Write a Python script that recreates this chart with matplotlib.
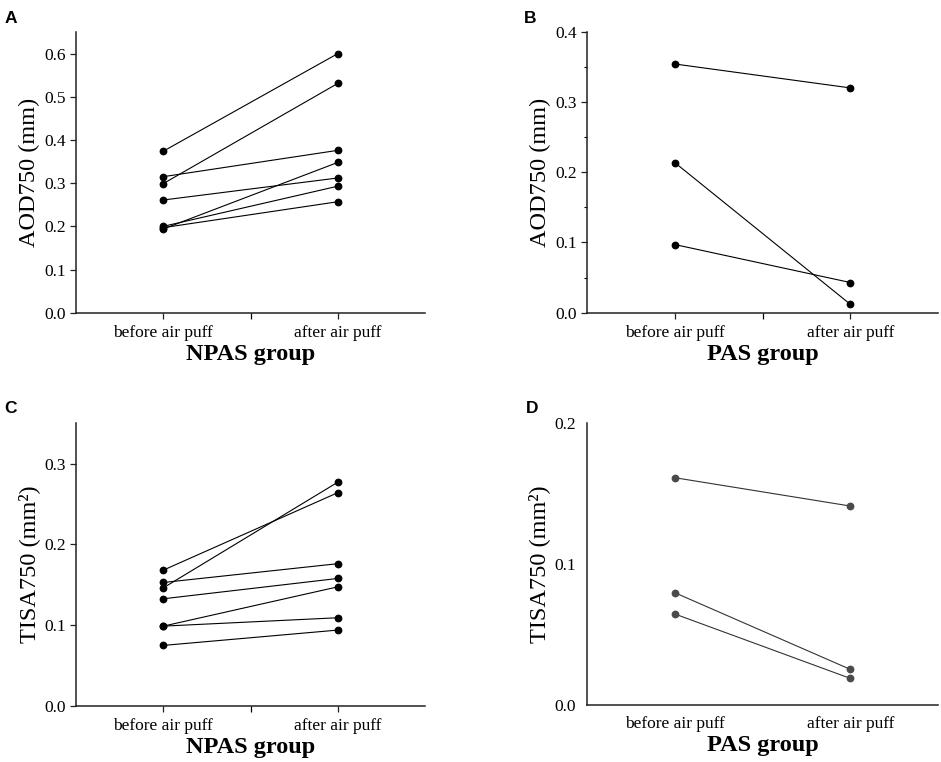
import matplotlib
matplotlib.use('Agg')
import matplotlib.pyplot as plt
from matplotlib.ticker import MultipleLocator, FixedLocator

plt.rcParams['font.family'] = ['Liberation Serif', 'DejaVu Serif']

conditions = ['before air puff', 'after air puff']

# panel A: AOD750, NPAS group
npas_aod_before = [0.374, 0.299, 0.315, 0.261, 0.194, 0.200, 0.197]
npas_aod_after = [0.600, 0.531, 0.376, 0.312, 0.348, 0.293, 0.257]

# panel B: AOD750, PAS group
pas_aod_before = [0.354, 0.2135, 0.097]
pas_aod_after = [0.320, 0.012, 0.043]

# panel C: TISA750, NPAS group
npas_tisa_before = [0.168, 0.146, 0.1527, 0.1325, 0.0986, 0.0986, 0.0747]
npas_tisa_after = [0.264, 0.277, 0.176, 0.1577, 0.1473, 0.109, 0.0937]

# panel D: TISA750, PAS group
pas_tisa_before = [0.1614, 0.0797, 0.0646]
pas_tisa_after = [0.1413, 0.0253, 0.0189]


def draw_panel(ax, before, after, ylabel, xlabel, ylim, ystep, yminor=None,
               color='black', line_color='black', show_ticks=True):
    for b, a in zip(before, after):
        ax.plot([1, 2], [b, a], color=line_color, lw=0.8, zorder=2)
        ax.plot([1, 2], [b, a], 'o', color=color, ms=4.6, mec=color, zorder=3)
    ax.set_xlim(0.5, 2.5)
    ax.set_ylim(*ylim)
    ax.xaxis.set_major_locator(FixedLocator([1, 2]))
    ax.set_xticklabels(conditions)
    ax.yaxis.set_major_locator(MultipleLocator(ystep))
    ax.yaxis.set_major_formatter(plt.FormatStrFormatter('%.1f'))
    for s in ['top', 'right']:
        ax.spines[s].set_visible(False)
    for s in ['left', 'bottom']:
        ax.spines[s].set_linewidth(1.1)
        ax.spines[s].set_color('#222222')
    ax.tick_params(labelsize=12.5, width=0.9, length=4, color='#222222')
    ax.tick_params(axis='x', pad=5)
    if show_ticks:
        ax.xaxis.set_minor_locator(FixedLocator([1.5]))
        ax.tick_params(axis='x', which='minor', length=4, width=0.9)
        if yminor:
            ax.yaxis.set_minor_locator(MultipleLocator(yminor))
            ax.tick_params(axis='y', which='minor', length=2.5, width=0.8)
    else:
        ax.tick_params(length=0, pad=8)
    ax.set_ylabel(ylabel, fontsize=17.5, labelpad=3)
    ax.set_xlabel(xlabel, fontsize=17.5, fontweight='bold', labelpad=2)


fig = plt.figure(figsize=(9.41, 7.62), dpi=100)
axA = fig.add_axes([0.0808, 0.5896, 0.3709, 0.3684])
axB = fig.add_axes([0.6241, 0.5896, 0.3727, 0.3688])
axC = fig.add_axes([0.0808, 0.0739, 0.3709, 0.3706])
axD = fig.add_axes([0.6241, 0.0748, 0.3727, 0.3696])

draw_panel(axA, npas_aod_before, npas_aod_after, 'AOD750 (mm)', 'NPAS group',
           (0, 0.65), 0.1)
draw_panel(axB, pas_aod_before, pas_aod_after, 'AOD750 (mm)', 'PAS group',
           (0, 0.4), 0.1, yminor=0.05)
draw_panel(axC, npas_tisa_before, npas_tisa_after, 'TISA750 (mm²)', 'NPAS group',
           (0, 0.35), 0.1)
draw_panel(axD, pas_tisa_before, pas_tisa_after, 'TISA750 (mm²)', 'PAS group',
           (0, 0.2), 0.1, color='#4a4a4a', line_color='#333333', show_ticks=False)

# panel letters
for lbl, x, y in [('A', 0.005, 0.976), ('B', 0.557, 0.976),
                  ('C', 0.005, 0.464), ('D', 0.559, 0.464)]:
    fig.text(x, y, lbl, fontsize=12.5, fontweight='bold',
             family=['Liberation Sans', 'DejaVu Sans'], va='center')

fig.savefig('out.png', dpi=100)
